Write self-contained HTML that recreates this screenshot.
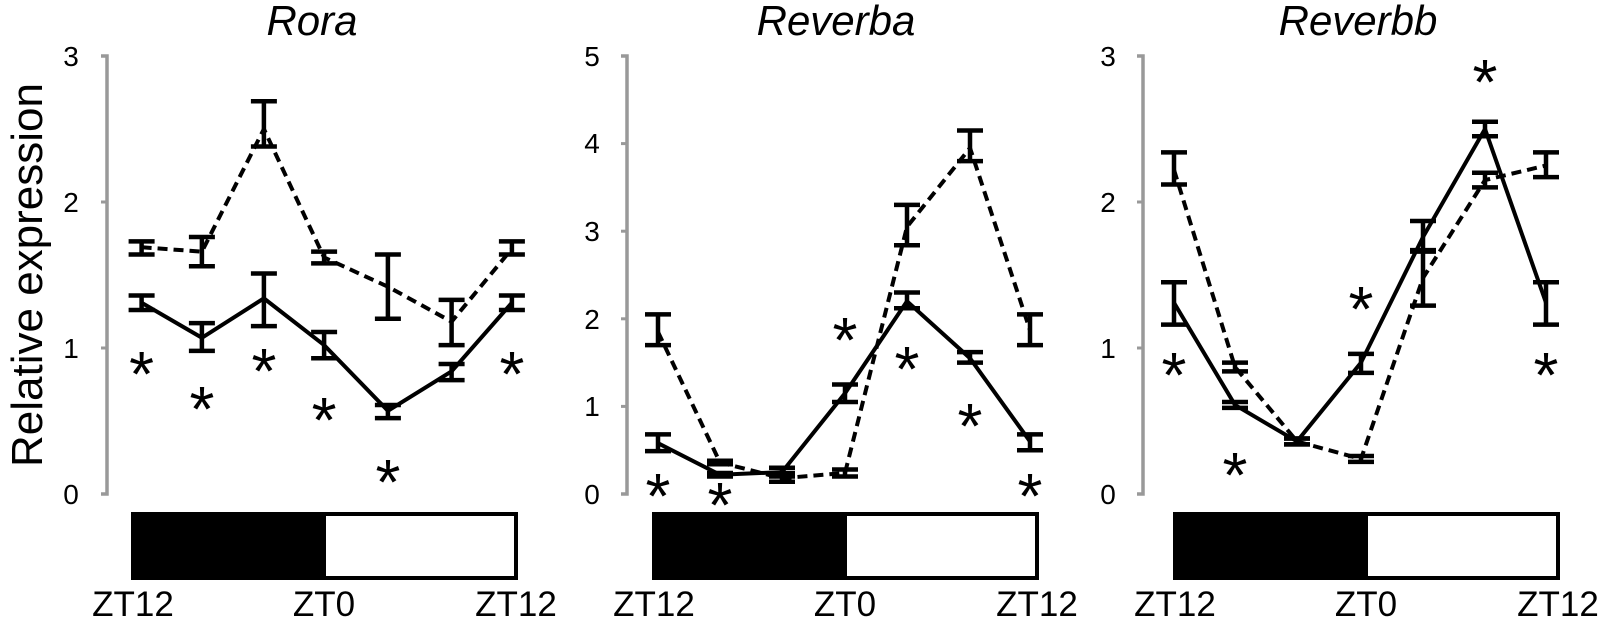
<!DOCTYPE html>
<html><head><meta charset="utf-8"><style>
html,body{margin:0;padding:0;background:#fff;}
svg{display:block;font-family:"Liberation Sans",Arial,sans-serif;}
</style></head><body>
<svg id="s" width="1600" height="620" viewBox="0 0 1600 620" xmlns="http://www.w3.org/2000/svg">
<g font-size="42" font-style="italic" text-anchor="middle">
<text x="312" y="35">Rora</text>
<text x="836" y="35">Reverba</text>
<text x="1358" y="35">Reverbb</text>
</g>
<text transform="translate(42,275) rotate(-90)" font-size="44" text-anchor="middle">Relative expression</text>
<g font-size="28" text-anchor="middle">
<text x="71" y="66">3</text><text x="71" y="212">2</text><text x="71" y="358">1</text><text x="71" y="504">0</text>
<g transform="translate(5,0)">
<text x="587" y="66">5</text><text x="587" y="153">4</text><text x="587" y="241">3</text><text x="587" y="329">2</text><text x="587" y="416">1</text><text x="587" y="504">0</text>
</g>
<g transform="translate(13,0)">
<text x="1095" y="66">3</text><text x="1095" y="212">2</text><text x="1095" y="358">1</text><text x="1095" y="504">0</text>
</g>
</g>
<g font-size="35" text-anchor="middle">
<text x="133" y="616">ZT12</text><text x="324" y="616">ZT0</text><text x="516" y="616">ZT12</text>
<g transform="translate(5,0)"><text x="649" y="616">ZT12</text><text x="840" y="616">ZT0</text><text x="1032" y="616">ZT12</text></g>
<g transform="translate(13,0)"><text x="1162" y="616">ZT12</text><text x="1353" y="616">ZT0</text><text x="1545" y="616">ZT12</text></g>
</g>
<g font-size="64" text-anchor="middle">
<text x="141.6" y="396">*</text><text x="201.9" y="431">*</text><text x="263.9" y="393">*</text><text x="324.1" y="442">*</text><text x="387.9" y="504">*</text><text x="511.9" y="396">*</text>
<g transform="translate(5,0)">
<text x="653" y="518">*</text><text x="715" y="527">*</text><text x="840" y="362">*</text><text x="902" y="391">*</text><text x="965" y="448">*</text><text x="1025" y="518">*</text>
</g>
<g transform="translate(13,0)">
<text x="1161" y="397">*</text><text x="1222" y="497">*</text><text x="1348" y="331">*</text><text x="1472" y="104">*</text><text x="1533" y="397">*</text>
</g>
</g>
<g id="g"></g>
</svg>
<script>
var g=document.getElementById('g'),NS='http://www.w3.org/2000/svg';
var Y0=494,YT=56;
function el(t,a){var e=document.createElementNS(NS,t);for(var k in a)e.setAttribute(k,a[k]);g.appendChild(e);return e;}
function panel(dx,ax,ymax,xs,bar,solid,dashed){
 ax+=dx; xs=xs.map(function(x){return x+dx;}); bar=bar.map(function(x){return x+dx;});
 var u=(Y0-YT)/ymax; function Y(v){return Y0-v*u;}
 el('path',{d:'M'+(ax-6)+' '+YT+'H'+ax+'V'+Y0+'H'+(ax-6),fill:'none',stroke:'#999','stroke-width':3.5});
 for(var i=1;i<ymax;i++)el('line',{x1:ax-6,x2:ax,y1:Y(i),y2:Y(i),stroke:'#999','stroke-width':3});
 el('rect',{x:bar[0],y:514,width:bar[2]-bar[0],height:64,fill:'#fff',stroke:'#000','stroke-width':4});
 el('rect',{x:bar[0],y:514,width:bar[1]-bar[0],height:64,fill:'#000',stroke:'#000','stroke-width':4});
 [[dashed,'10 6'],[solid,'none']].forEach(function(p){
  var s=p[0],d='';
  s.forEach(function(q,i){d+=(i?'L':'M')+xs[i]+' '+Y(q[0]);});
  el('path',{d:d,fill:'none',stroke:'#000','stroke-width':4,'stroke-dasharray':p[1]});
  s.forEach(function(q,i){var x=xs[i],a=Y(q[1]),b=Y(q[2]);
   el('path',{d:'M'+x+' '+a+'V'+b+'M'+(x-13)+' '+a+'H'+(x+13)+'M'+(x-13)+' '+b+'H'+(x+13),fill:'none',stroke:'#000','stroke-width':4.5});});
 });
}
panel(0,107,3,[141.6,201.9,263.9,324.1,387.9,451.6,511.9],[133,324,516],
 [[1.31,1.36,1.26],[1.07,1.17,0.98],[1.34,1.51,1.15],[1.02,1.11,0.93],[0.57,0.61,0.52],[0.84,0.89,0.78],[1.31,1.36,1.26]],
 [[1.69,1.73,1.64],[1.66,1.76,1.56],[2.5,2.69,2.38],[1.62,1.66,1.58],[1.42,1.64,1.2],[1.18,1.33,1.02],[1.68,1.73,1.64]]);
panel(5,622,5,[653,715,777,840,902,965,1025],[649,840,1032],
 [[0.58,0.68,0.49],[0.22,0.24,0.2],[0.25,0.3,0.2],[1.15,1.25,1.05],[2.2,2.3,2.12],[1.55,1.62,1.5],[0.6,0.68,0.5]],
 [[1.85,2.05,1.7],[0.36,0.38,0.34],[0.18,0.24,0.14],[0.24,0.28,0.2],[3.05,3.3,2.84],[3.95,4.15,3.8],[1.87,2.05,1.7]]);
panel(13,1130,3,[1161,1222,1284,1348,1410,1472,1533],[1162,1353,1545],
 [[1.31,1.45,1.16],[0.61,0.63,0.59],[0.36,0.38,0.34],[0.9,0.96,0.83],[1.76,1.87,1.66],[2.5,2.55,2.45],[1.31,1.45,1.16]],
 [[2.22,2.34,2.12],[0.87,0.9,0.84],[0.36,0.38,0.34],[0.24,0.26,0.22],[1.48,1.67,1.29],[2.15,2.2,2.1],[2.25,2.34,2.17]]);
</script>
</body></html>
